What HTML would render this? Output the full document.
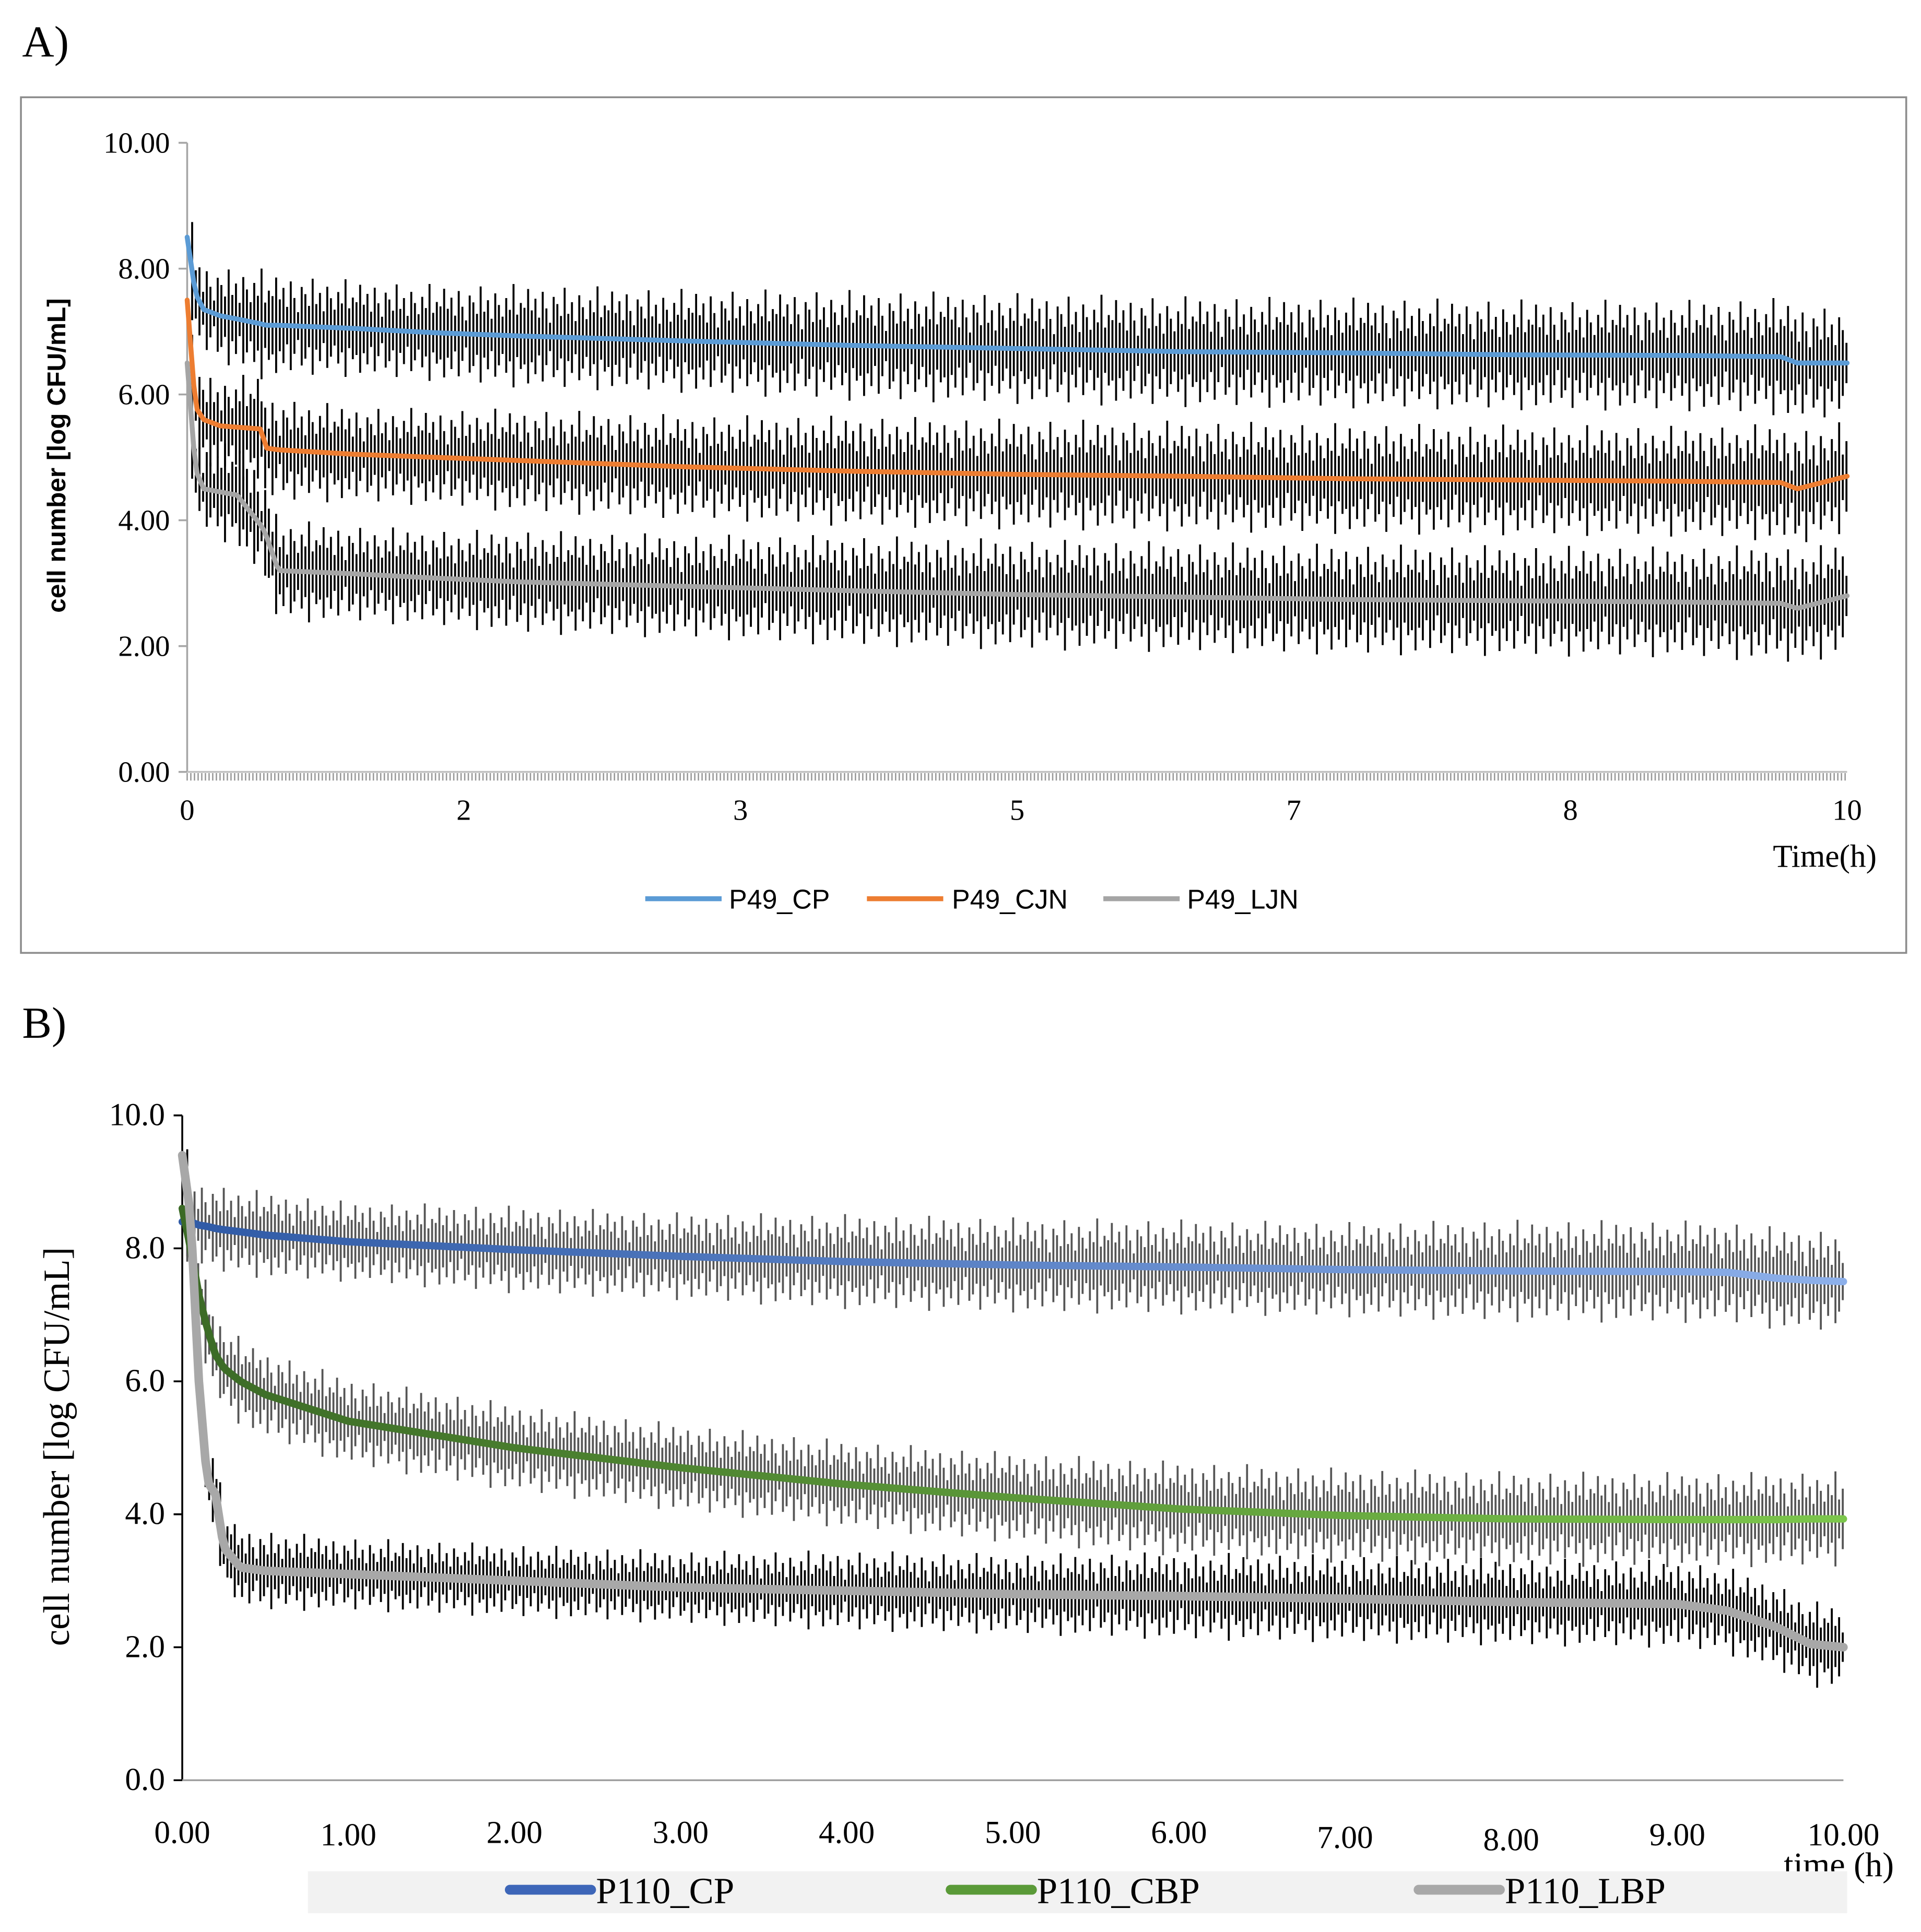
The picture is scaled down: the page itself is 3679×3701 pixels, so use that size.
<!DOCTYPE html>
<html><head><meta charset="utf-8">
<style>
html,body{margin:0;padding:0;background:#fff;}
svg{display:block;}
</style></head>
<body>
<svg id="fig" width="3679" height="3701" viewBox="0 0 1560 1569.3" preserveAspectRatio="none" xmlns="http://www.w3.org/2000/svg">
<rect x="0" y="0" width="1560" height="1570" fill="#fff"/>
<text x="18" y="46" font-family="Liberation Serif, serif" font-size="36">A)</text>
<rect x="17" y="79" width="1531" height="695" fill="none" stroke="#8c8c8c" stroke-width="1.5"/>
<g id="plotA"></g>
<text x="18" y="843" font-family="Liberation Serif, serif" font-size="36">B)</text>
<g id="plotB"></g>
</svg>
<script>
// ---------- Panel A data ----------
const aTicksY = ["0.00","2.00","4.00","6.00","8.00","10.00"];
const aTickValsY = [0,2,4,6,8,10];
const aTicksX = ["0","2","3","5","7","8","10"];
const aTime = [0,0.05,0.1,0.2,0.3,0.45,0.47,0.55,1,1.5,2,3,4,5,6,7,8,9,9.6,9.7,10];
const aCP  = [8.5,7.6,7.35,7.25,7.2,7.12,7.1,7.1,7.05,6.98,6.93,6.85,6.78,6.73,6.68,6.66,6.63,6.62,6.6,6.5,6.5];
const aCJN = [7.5,5.8,5.6,5.5,5.48,5.45,5.15,5.12,5.05,5.0,4.95,4.85,4.78,4.73,4.7,4.66,4.64,4.62,4.6,4.5,4.7];
const aLJN = [6.5,4.8,4.5,4.45,4.4,3.9,3.8,3.2,3.15,3.08,3.02,2.95,2.88,2.82,2.78,2.74,2.72,2.7,2.68,2.6,2.8];
const aErr = [0.9,0.7,0.65,0.7,0.75,0.8,0.8,0.75,0.7,0.7,0.75,0.75,0.8,0.8,0.8,0.8,0.8,0.8,0.85,0.85,0.8];
// ---------- Panel B data ----------
const bTicksY = ["0.0","2.0","4.0","6.0","8.0","10.0"];
const bTickValsY = [0,2,4,6,8,10];
const bTicksX = ["0.00","1.00","2.00","3.00","4.00","5.00","6.00","7.00","8.00","9.00","10.00"];
const bTime = [0,0.05,0.1,0.15,0.2,0.25,0.35,0.5,1,2,3,4,5,6,7,8,9,9.3,9.6,9.8,10];
const bCP  = [8.4,8.4,8.35,8.33,8.3,8.28,8.25,8.2,8.1,7.98,7.88,7.8,7.75,7.72,7.68,7.66,7.65,7.64,7.55,7.52,7.5];
const bCBP = [8.6,8.0,7.3,6.8,6.4,6.2,6.0,5.8,5.4,5.0,4.7,4.45,4.25,4.08,3.98,3.93,3.92,3.92,3.92,3.93,3.93];
const bLBP = [9.4,8.5,6.0,4.5,4.3,3.5,3.2,3.15,3.1,3.0,2.9,2.85,2.8,2.77,2.73,2.68,2.65,2.55,2.3,2.05,2.0];
const bErrCP  = [0.6,0.6,0.6,0.6,0.6,0.6,0.6,0.6,0.55,0.6,0.6,0.65,0.65,0.65,0.65,0.7,0.7,0.7,0.7,0.7,0.7];
const bErrCBP = [0.6,0.6,0.6,0.6,0.6,0.6,0.6,0.6,0.6,0.6,0.6,0.6,0.62,0.65,0.65,0.65,0.65,0.65,0.65,0.65,0.65];
const bErrLBP = [0.6,0.6,0.6,0.6,0.6,0.55,0.55,0.55,0.5,0.5,0.5,0.55,0.55,0.6,0.6,0.6,0.6,0.6,0.6,0.6,0.55];
// hand-typed relative bar-length pattern (cycled)
const errPattern = [1.0,0.55,0.8,0.4,0.95,0.6,0.3,0.85,0.7,0.45,1.05,0.5,0.75,0.35,0.9,0.65,0.4,0.8,0.55,1.1,0.45,0.7,0.6];

const NS="http://www.w3.org/2000/svg";
function mk(tag,attrs,parent){const e=document.createElementNS(NS,tag);for(const k in attrs)e.setAttribute(k,attrs[k]);parent.appendChild(e);return e;}
function interp(ts,vs,t){if(t<=ts[0])return vs[0];for(let i=1;i<ts.length;i++){if(t<=ts[i]){const f=(t-ts[i-1])/(ts[i]-ts[i-1]);return vs[i-1]+f*(vs[i]-vs[i-1]);}}return vs[vs.length-1];}

function drawPanel(g,cfg){
  const X=t=>cfg.x0+(t/10)*(cfg.x1-cfg.x0);
  const Y=v=>cfg.y0-(v/10)*(cfg.y0-cfg.y1);
  cfg.series.forEach((s,si)=>{
    const eg=mk('g',{},g);
    
    
    let d='';let k=si*5;
    for(let t=0.03;t<=10.001;t+=0.022){
      const m=interp(cfg.time,s.vals,t);const e=interp(cfg.time,s.err,t)*errPattern[k%errPattern.length];k++;
      d+='M'+X(t).toFixed(2)+' '+Y(m+e).toFixed(2)+'V'+Y(m-e).toFixed(2);
    }
    mk('path',{d:d,stroke:s.errColor,'stroke-width':1.6,fill:'none'},eg);
  });
  const ax=mk('line',{x1:cfg.x0,y1:cfg.y1,x2:cfg.x0,y2:cfg.y0,stroke:cfg.axisColor,'stroke-width':1.5},g);
  
  const bx=mk('line',{x1:cfg.x0,y1:cfg.y0,x2:cfg.x1,y2:cfg.y0,stroke:cfg.xAxisColor,'stroke-width':1.5},g);
  
  if(cfg.hatch){let d='';for(let t=0;t<=10;t+=0.022){d+='M'+X(t).toFixed(2)+' '+(cfg.y0+1)+'V'+(cfg.y0+7);}
    const h=mk('path',{d:d,stroke:'#999','stroke-width':1.1},g);}
  cfg.yVals.forEach((v,i)=>{
    const tk=mk('line',{x1:cfg.x0-7,y1:Y(v),x2:cfg.x0,y2:Y(v),stroke:cfg.axisColor,'stroke-width':1.5},g);
    
    const tx=mk('text',{x:cfg.x0-14,y:Y(v)+8,'text-anchor':'end','font-family':'Liberation Serif, serif','font-size':cfg.fs},g);
    tx.textContent=cfg.yLabels[i];
  });
  cfg.xLabels.forEach((l,i)=>{
    const t=i*10/(cfg.xLabels.length-1);
    const tx=mk('text',{x:X(t),y:cfg.xLabY+(cfg.xStagger?cfg.xStagger[i]:0),'text-anchor':'middle','font-family':'Liberation Serif, serif','font-size':cfg.fs},g);
    tx.textContent=l;
  });
  cfg.series.forEach(s=>{
    let d='';for(let t=0;t<=10.001;t+=0.02){d+=(d?'L':'M')+X(t).toFixed(2)+' '+Y(interp(cfg.time,s.vals,t)).toFixed(2);}
    const p=mk('path',{d:d,stroke:s.color,'stroke-width':s.w,fill:'none','stroke-linejoin':'round','stroke-linecap':'round'},g);
    
  });
}

const defs=mk('defs',{},document.getElementById('fig'));
const g1=mk('linearGradient',{id:'gCP',x1:'0',x2:'1',y1:'0',y2:'0'},defs);
mk('stop',{offset:'0','stop-color':'#2f5aa6'},g1);mk('stop',{offset:'1','stop-color':'#8db0ea'},g1);
const g2=mk('linearGradient',{id:'gCBP',x1:'0',x2:'1',y1:'0',y2:'0'},defs);
mk('stop',{offset:'0','stop-color':'#3b6a26'},g2);mk('stop',{offset:'1','stop-color':'#7cc64c'},g2);

const A=document.getElementById('plotA');
drawPanel(A,{x0:152,x1:1500,y0:627,y1:116,time:aTime,axisColor:'#a6a6a6',xAxisColor:'#c0c0c0',hatch:true,fs:24,
  yVals:aTickValsY,yLabels:aTicksY,xLabels:aTicksX,xLabY:666,
  series:[{name:'p49-cp',vals:aCP,err:aErr,color:'#5b9bd5',errColor:'#000',w:4},
          {name:'p49-cjn',vals:aCJN,err:aErr,color:'#ed7d31',errColor:'#000',w:4},
          {name:'p49-ljn',vals:aLJN,err:aErr,color:'#a5a5a5',errColor:'#000',w:4}]});
const B=document.getElementById('plotB');
drawPanel(B,{x0:148,x1:1497,y0:1446,y1:906,time:bTime,axisColor:'#000',xAxisColor:'#a0a0a0',hatch:false,fs:26,
  yVals:bTickValsY,yLabels:bTicksY,xLabels:bTicksX,xLabY:1497,xStagger:[0,2,0,0,0,0,0,4,6,2,2],
  series:[{name:'p110-cp',vals:bCP,err:bErrCP,color:'url(#gCP)',errColor:'#555',w:6},
          {name:'p110-cbp',vals:bCBP,err:bErrCBP,color:'url(#gCBP)',errColor:'#555',w:6},
          {name:'p110-lbp',vals:bLBP,err:bErrLBP,color:'#a8a8a8',errColor:'#000',w:7}]});
</script>
<svg style="position:absolute;left:0;top:0" width="3679" height="3701" viewBox="0 0 1560 1569.3" preserveAspectRatio="none" xmlns="http://www.w3.org/2000/svg">
<text transform="translate(53,370) rotate(-90)" text-anchor="middle" font-family="Liberation Sans, sans-serif" font-weight="bold" font-size="21">cell number [log CFU/mL]</text>
<text x="1524" y="704" text-anchor="end" font-family="Liberation Serif, serif" font-size="26">Time(h)</text>
<g font-family="Liberation Sans, sans-serif" font-size="22">
<g><line x1="524" y1="730" x2="586" y2="730" stroke="#5b9bd5" stroke-width="4"/><text x="592" y="738">P49_CP</text></g>
<g><line x1="704" y1="730" x2="766" y2="730" stroke="#ed7d31" stroke-width="4"/><text x="773" y="738">P49_CJN</text></g>
<g><line x1="896" y1="730" x2="958" y2="730" stroke="#a5a5a5" stroke-width="4"/><text x="964" y="738">P49_LJN</text></g>
</g>
<text transform="translate(56,1175) rotate(-90)" text-anchor="middle" font-family="Liberation Serif, serif" font-size="30">cell number [log CFU/mL]</text>
<text x="1538" y="1524" text-anchor="end" font-family="Liberation Serif, serif" font-size="28">time (h)</text>
<rect x="250" y="1520" width="1250" height="34" fill="#f2f2f2"/>
<g font-family="Liberation Serif, serif" font-size="30">
<g><line x1="414" y1="1535" x2="480" y2="1535" stroke="#3d66b8" stroke-width="8" stroke-linecap="round"/><text x="484" y="1546">P110_CP</text></g>
<g><line x1="772" y1="1535" x2="838" y2="1535" stroke="#5a9a38" stroke-width="8" stroke-linecap="round"/><text x="842" y="1546">P110_CBP</text></g>
<g><line x1="1152" y1="1535" x2="1218" y2="1535" stroke="#a8a8a8" stroke-width="8" stroke-linecap="round"/><text x="1222" y="1546">P110_LBP</text></g>
</g>
</svg>
</body></html>
